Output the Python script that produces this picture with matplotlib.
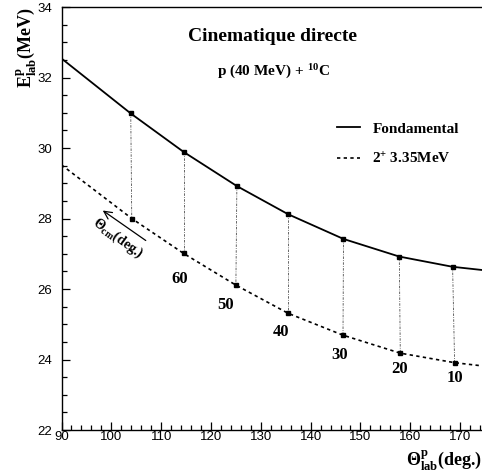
import matplotlib
matplotlib.use('Agg')
import matplotlib.pyplot as plt
from matplotlib.ticker import MultipleLocator
from matplotlib.text import OffsetFrom

plt.rcParams['mathtext.fontset'] = 'custom'
plt.rcParams['mathtext.rm'] = 'Liberation Serif:bold'
plt.rcParams['mathtext.it'] = 'Liberation Serif:bold'
plt.rcParams['mathtext.bf'] = 'Liberation Serif:bold'

# CM angles of the marked points (deg.)
theta_cm = [70, 60, 50, 40, 30, 20, 10]

# ground state (Fondamental)
gs_theta = [103.9, 114.5, 125.2, 135.5, 146.6, 157.8, 168.5]
gs_e = [30.98, 29.89, 28.92, 28.12, 27.42, 26.92, 26.63]
gs_ends_theta = [90, 175]
gs_ends_e = [32.54, 26.53]

# excited state 2+ 3.35 MeV
ex_theta = [104.1, 114.5, 125.0, 135.5, 146.5, 158.0, 168.9]
ex_e = [28.00, 27.01, 26.11, 25.31, 24.69, 24.18, 23.91]
ex_ends_theta = [90, 175]
ex_ends_e = [29.52, 23.81]

serif = 'Liberation Serif'

fig = plt.figure(figsize=(4.82, 4.73), dpi=100)
ax = fig.add_axes([0.1276, 0.0909, 0.8786, 0.8943])

x_gs = [gs_ends_theta[0]] + gs_theta + [gs_ends_theta[1]]
y_gs = [gs_ends_e[0]] + gs_e + [gs_ends_e[1]]
x_ex = [ex_ends_theta[0]] + ex_theta + [ex_ends_theta[1]]
y_ex = [ex_ends_e[0]] + ex_e + [ex_ends_e[1]]

ax.plot(x_gs, y_gs, 'k-', lw=1.3, label='Fondamental')
ax.plot(x_ex, y_ex, 'k--', lw=1.2, dashes=(2, 2), label='2$^{+}$ 3.35MeV')

for xg, yg, xe, ye in zip(gs_theta, gs_e, ex_theta, ex_e):
    ax.plot([xg, xe], [yg, ye], color='0.3', lw=0.6, dashes=(3, 1.5, 1, 1.5))

ax.plot(gs_theta, gs_e, 'ks', ms=2.5)
ax.plot(ex_theta, ex_e, 'ks', ms=2.5)

# cm angle labels next to the excited-state points
offsets = [(-4, -26), (-10, -20), (-7, -19), (-3, -20), (-1, -16), (0, -15)]
for a, xe, ye, off in zip(theta_cm[1:], ex_theta[1:], ex_e[1:], offsets):
    ax.annotate(str(a), (xe, ye), xytext=off, textcoords='offset pixels',
                ha='center', va='center', fontsize=12, fontweight='bold', family=serif)

# arrow and label below the first (70 deg) point
ref = OffsetFrom(ax.transData, (ex_theta[0], ex_e[0]), unit='pixels')
ax.annotate('', xy=(-29, 8), xycoords=ref, xytext=(14, -22), textcoords=ref,
            arrowprops=dict(arrowstyle='->', lw=0.9, color='k', shrinkA=0, shrinkB=0,
                            mutation_scale=14))
ax.annotate('Θ$_{cm}$(deg.)', (ex_theta[0], ex_e[0]), xytext=(-14, -20), textcoords='offset pixels',
            ha='center', va='center', rotation=-36, fontsize=10, fontweight='bold', family=serif)

ax.text(0.4994, 0.931, 'Cinematique directe', transform=ax.transAxes, ha='center', va='center',
        fontsize=14, fontweight='bold', family=serif)
ax.text(0.4994, 0.846, 'p (40 MeV) + $^{10}$C', transform=ax.transAxes, ha='center', va='center',
        fontsize=11, fontweight='bold', family=serif)

ax.legend(loc='upper left', bbox_to_anchor=(0.651, 0.728), frameon=False, borderpad=0,
          borderaxespad=0, handlelength=1.5, handletextpad=0.8, labelspacing=1.0,
          prop={'family': serif, 'weight': 'bold', 'size': 11})

ax.set_xlim(90, 175)
ax.set_ylim(22, 34)
ax.xaxis.set_major_locator(MultipleLocator(10))
ax.xaxis.set_minor_locator(MultipleLocator(2))
ax.yaxis.set_major_locator(MultipleLocator(2))
ax.yaxis.set_minor_locator(MultipleLocator(0.5))
ax.tick_params(which='both', direction='in', top=False, right=False, width=0.9)
ax.tick_params(which='major', length=6)
ax.tick_params(which='minor', length=3.5)
ax.tick_params(axis='x', pad=1)
ax.tick_params(axis='y', pad=7)
for lab in ax.get_xticklabels() + ax.get_yticklabels():
    lab.set_family('Liberation Sans')
    lab.set_fontsize(9.5)
for s in ax.spines.values():
    s.set_linewidth(1.0)

fig.text(26 / 482, 1 - 48 / 473, 'E$^{p}_{lab}$(MeV)', rotation=90, ha='center', va='center',
         fontsize=13, fontweight='bold', family=serif)
fig.text(1.0, 1 - 460 / 473, 'Θ$^{p}_{lab}$(deg.)', ha='right', va='center',
         fontsize=13, fontweight='bold', family=serif)

fig.savefig('out.png', dpi=100)
